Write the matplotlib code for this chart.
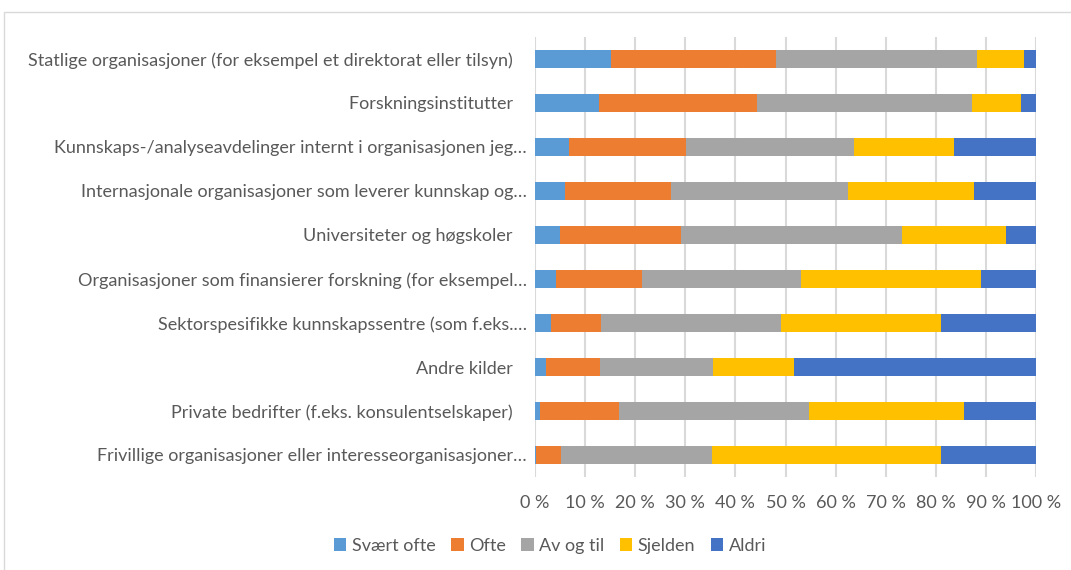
import matplotlib.pyplot as plt
import numpy as np
from matplotlib.patches import Rectangle

# categories, top to bottom
categories = [
    "Statlige organisasjoner (for eksempel et direktorat eller tilsyn)",
    "Forskningsinstitutter",
    "Kunnskaps-/analyseavdelinger internt i organisasjonen jeg…",
    "Internasjonale organisasjoner som leverer kunnskap og…",
    "Universiteter og høgskoler",
    "Organisasjoner som finansierer forskning (for eksempel…",
    "Sektorspesifikke kunnskapssentre (som f.eks.…",
    "Andre kilder",
    "Private bedrifter (f.eks. konsulentselskaper)",
    "Frivillige organisasjoner eller interesseorganisasjoner…",
]
truncated = [c.endswith("…") for c in categories]

series = ["Svært ofte", "Ofte", "Av og til", "Sjelden", "Aldri"]
colors = ["#5B9BD5", "#ED7D31", "#A5A5A5", "#FFC000", "#4472C4"]

# percent shares
svaert_ofte = [15.2, 12.7, 6.8, 5.9, 4.9, 4.2, 3.1, 2.2, 1.0, 0.2]
ofte        = [33.0, 31.6, 23.4, 21.2, 24.2, 17.1, 10.1, 10.8, 15.7, 5.0]
av_og_til   = [40.0, 42.9, 33.4, 35.3, 44.1, 31.8, 36.0, 22.5, 38.0, 30.1]
sjelden     = [9.5, 9.8, 20.1, 25.2, 20.9, 36.0, 31.9, 16.2, 30.9, 45.7]
aldri       = [2.3, 3.0, 16.3, 12.4, 5.9, 10.9, 18.9, 48.3, 14.4, 19.0]

xticks = np.arange(0, 101, 10)
xticklabels = [f"{t} %" for t in xticks]

plt.rcParams['font.family'] = ['Lato', 'DejaVu Sans']
text_col = "#595959"
fs = 13

fig = plt.figure(figsize=(10.71, 5.70), dpi=100)
ax = fig.add_axes([535 / 1071, 1 - 477 / 570, 501 / 1071, 440 / 570])

y = np.arange(len(categories))
left = np.zeros(len(categories))
for name, vals, col in zip(series, [svaert_ofte, ofte, av_og_til, sjelden, aldri], colors):
    vals = np.array(vals)
    ax.barh(y, vals, left=left, height=0.41, color=col, label=name, zorder=3)
    left += vals

ax.set_xlim(0, 100)
ax.set_ylim(len(categories) - 0.5, -0.5)
ax.set_xticks(xticks)
ax.set_xticklabels(xticklabels)
ax.set_yticks(y)
ax.set_yticklabels([c if t else c + "   " for c, t in zip(categories, truncated)])

ax.xaxis.grid(True, color="#D9D9D9", linewidth=1.5, zorder=0)
ax.tick_params(axis='both', length=0, colors=text_col, labelsize=fs)
ax.tick_params(axis='x', pad=13)
ax.tick_params(axis='y', pad=6)
for s in ax.spines.values():
    s.set_visible(False)

leg = fig.legend(loc='center', bbox_to_anchor=(550 / 1071, 1 - 546 / 570), ncol=5,
                 frameon=False, fontsize=fs, handlelength=0.7, handleheight=0.7,
                 handletextpad=0.3, columnspacing=0.85)
for t in leg.get_texts():
    t.set_color(text_col)

# light chart border (top and left edges visible)
fig.patches.append(Rectangle((4 / 1071, -0.1), 1.2, 1 - 12 / 570 + 0.1, transform=fig.transFigure,
                             fill=False, edgecolor="#D9D9D9", linewidth=1))

fig.savefig("out.png", dpi=100)
